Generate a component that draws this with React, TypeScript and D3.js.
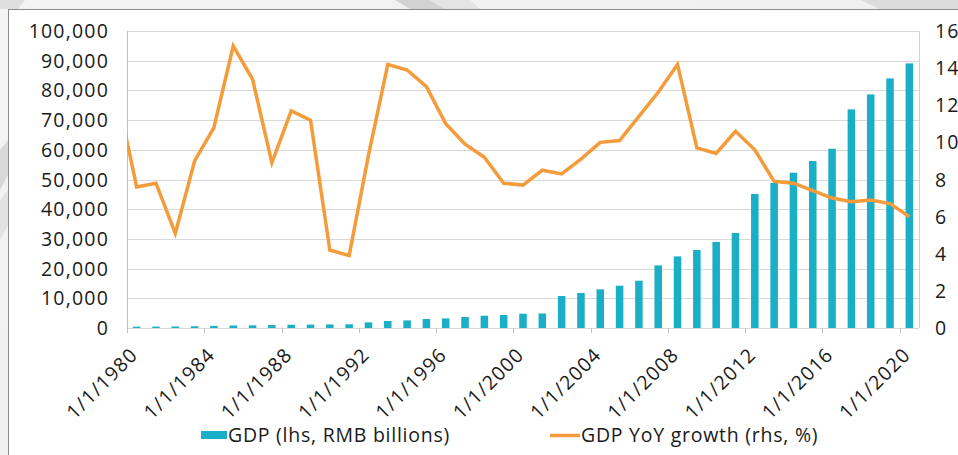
import React from "react";
import * as d3 from "d3";

const years: number[] = d3.range(1980, 2021);
const gdp: number[] = [
  450, 480, 520, 590, 700, 850, 900, 1000, 1100, 1150,
  1200, 1250, 1900, 2350, 2560, 3030, 3230, 3700, 4140, 4380,
  4800, 4900, 10770, 11780, 13000, 14240, 15930, 21080, 24110, 26260,
  28960, 31990, 45120, 48820, 52290, 56230, 60370, 73600, 78650, 84040,
  89090,
];
const growthYears: number[] = d3.range(1979, 2021);
const growth: number[] = [
  12.5, 7.6, 7.8, 5.1, 9.0, 10.8, 15.2, 13.4, 8.9, 11.7, 11.2,
  4.2, 3.9, 9.3, 14.2, 13.9, 13.0, 11.0, 9.9, 9.2, 7.8,
  7.7, 8.5, 8.3, 9.1, 10.0, 10.1, 11.4, 12.7, 14.2, 9.7,
  9.4, 10.6, 9.6, 7.9, 7.8, 7.4, 7.0, 6.8, 6.9, 6.7, 6.0,
];
const leftTicks: number[] = d3.range(0, 100001, 10000);
const rightTicks: number[] = d3.range(0, 17, 2);
const xTickYears: number[] = d3.range(1980, 2021, 4);
const legendLabels: string[] = ["GDP (lhs, RMB billions)", "GDP YoY growth (rhs, %)"];

const W = 958, H = 455;
const L = 127, R = 919, T = 31, B = 328;
const BAR = "#1BAFC7";
const LINE = "#F49B3B";
const TXT = "#1a1a1a";
const FONT = "'Open Sans', sans-serif";
const FS = 19.5;
const LS = 1.2;

export default function App() {
  const x = d3.scaleBand<number>().domain(years).range([L, R]).paddingInner(0.61).paddingOuter(0.305);
  const step = x.step();
  const center = (yr: number) => L + (yr - years[0] + 0.5) * step;
  const yL = d3.scaleLinear().domain([0, 100000]).range([B, T]);
  const yR = d3.scaleLinear().domain([0, 16]).range([B, T]);
  const fmt = d3.format(",");
  const line = d3.line<number>()
    .x((_, i) => center(growthYears[i]))
    .y((d) => yR(d));
  const tickX = (yr: number) => center(yr) - step / 2;
  const textProps = { fontSize: FS, fill: TXT, fontWeight: 400, letterSpacing: LS };
  const legendProps = { ...textProps, letterSpacing: 0.75 };

  return (
    <svg width={W} height={H} style={{ position: "absolute", left: 0, top: 0 }} fontFamily={FONT}>
      <defs>
        <clipPath id="plotClip">
          <rect x={L} y={0} width={R - L} height={H} />
        </clipPath>
        <linearGradient id="bgGrad" x1="0" y1="0" x2="1" y2="1">
          <stop offset="0" stopColor="#f4f4f4" />
          <stop offset="1" stopColor="#ececec" />
        </linearGradient>
      </defs>
      <rect x={0} y={0} width={W} height={H} fill="url(#bgGrad)" />
      <polygon points="395,0 430,0 445,9 410,9" fill="#d2d2d2" />
      <polygon points="430,0 470,0 480,9 445,9" fill="#e4e4e4" />
      <polygon points="860,0 958,0 958,9 880,9" fill="#dcdcdc" />
      <polygon points="0,0 25,0 18,9 0,9" fill="#dedede" />
      <polygon points="0,150 8,140 8,175 0,190" fill="#d8d8d8" />
      <polygon points="0,200 8,190 8,225 0,240" fill="#e2e2e2" />
      <rect x={8.5} y={9.5} width={W + 10} height={H + 10} fill="#ffffff" stroke="#8c8c8c" strokeWidth={1} />

      {leftTicks.map((t) => (
        <line key={"g" + t} x1={L} x2={R} y1={Math.round(yL(t)) + 0.5} y2={Math.round(yL(t)) + 0.5}
          stroke="#d9d9d9" strokeWidth={1} />
      ))}
      <line x1={L + 0.5} x2={L + 0.5} y1={T} y2={B + 5} stroke="#bfbfbf" />
      <line x1={R + 0.5} x2={R + 0.5} y1={T} y2={B} stroke="#d0d0d0" />
      {xTickYears.map((yr) => (
        <line key={"xt" + yr} x1={Math.round(tickX(yr)) + 0.5} x2={Math.round(tickX(yr)) + 0.5}
          y1={B} y2={B + 5} stroke="#bfbfbf" />
      ))}

      {years.map((yr, i) => (
        <rect key={"b" + yr} x={x(yr)} y={yL(gdp[i])} width={x.bandwidth()} height={B - yL(gdp[i])} fill={BAR} />
      ))}

      <path d={line(growth) || ""} fill="none" stroke={LINE} strokeWidth={3.5}
        strokeLinejoin="miter" clipPath="url(#plotClip)" />

      {leftTicks.map((t) => (
        <text key={"lt" + t} x={109} y={yL(t)} dy="0.36em" textAnchor="end" {...textProps}>
          {fmt(t)}
        </text>
      ))}
      {rightTicks.map((t) => (
        <text key={"rt" + t} x={935} y={yR(t)} dy="0.36em" textAnchor="start" {...textProps}>
          {t}
        </text>
      ))}
      {xTickYears.map((yr) => (
        <text key={"xl" + yr} transform={`translate(${tickX(yr) + 12},${B + 28}) rotate(-45)`}
          textAnchor="end" {...textProps}>
          {`1/1/${yr}`}
        </text>
      ))}

      <rect x={201} y={431} width={26} height={8} fill={BAR} />
      <text x={228} y={442} {...legendProps}>{legendLabels[0]}</text>
      <line x1={550} x2={580} y1={435.5} y2={435.5} stroke={LINE} strokeWidth={3.5} />
      <text x={581} y={442} {...legendProps}>{legendLabels[1]}</text>
    </svg>
  );
}
